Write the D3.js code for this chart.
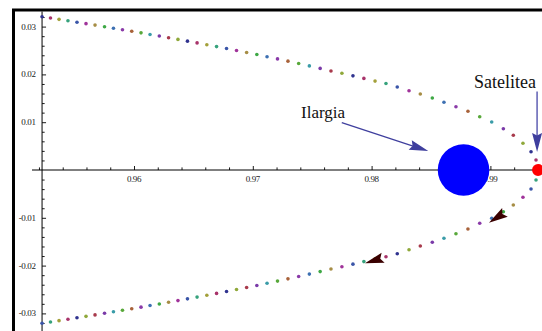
<!DOCTYPE html>
<html><head><meta charset="utf-8">
<script src="https://cdn.jsdelivr.net/npm/d3@7"></script>
<style>html,body{margin:0;padding:0;background:#fff;overflow:hidden}svg{display:block}</style>
</head><body><svg id="c" width="542" height="331"></svg>
<script>
// ---- data ----
const xTickValues = [0.96, 0.97, 0.98, 0.99];
const xTickLabels = ["0.96", "0.97", "0.98", "0.99"];
const yTickValues = [-0.03, -0.02, -0.01, 0.01, 0.02, 0.03];
const yTickLabels = ["-0.03", "-0.02", "-0.01", "0.01", "0.02", "0.03"];
const axesOrigin = [0.95226, 0];

const trajX = [0.95226,0.95297,0.95369,0.95444,0.95520,0.95596,0.95672,0.95752,0.95827,0.95903,
  0.95981,0.96059,0.96135,0.96213,0.96291,0.96370,0.96450,0.96531,0.96613,0.96695,
  0.96779,0.96863,0.96948,0.97034,0.97120,0.97208,0.97296,0.97386,0.97476,0.97567,
  0.97658,0.97750,0.97843,0.97935,0.98029,0.98121,0.98216,0.98315,0.98410,0.98511,
  0.98609,0.98710,0.98811,0.98910,0.99011,0.99109,0.99193,0.99274,0.99342,0.99384,0.99401,
  0.99384,0.99342,0.99274,0.99193,0.99109,0.99011,0.98910,0.98811,0.98710,0.98609,
  0.98511,0.98410,0.98315,0.98216,0.98121,0.98029,0.97935,0.97843,0.97750,0.97658,
  0.97567,0.97476,0.97386,0.97296,0.97208,0.97120,0.97034,0.96948,0.96863,0.96779,
  0.96695,0.96613,0.96531,0.96450,0.96370,0.96291,0.96213,0.96135,0.96059,0.95981,
  0.95903,0.95827,0.95752,0.95672,0.95596,0.95520,0.95444,0.95369,0.95297,0.95226];
const trajY = [0.03207,0.03180,0.03152,0.03122,0.03092,0.03062,0.03031,0.02998,0.02967,0.02935,
  0.02903,0.02869,0.02836,0.02802,0.02768,0.02732,0.02696,0.02659,0.02621,0.02582,
  0.02542,0.02500,0.02458,0.02415,0.02370,0.02324,0.02277,0.02228,0.02178,0.02126,
  0.02072,0.02023,0.01970,0.01916,0.01860,0.01810,0.01736,0.01659,0.01590,0.01506,
  0.01416,0.01324,0.01228,0.01115,0.01004,0.00864,0.00726,0.00559,0.00383,0.00209,0,
  -0.00209,-0.00397,-0.00571,-0.00732,-0.00872,-0.01010,-0.01115,-0.01234,-0.01333,-0.01429,
  -0.01513,-0.01590,-0.01667,-0.01751,-0.01814,-0.01860,-0.01916,-0.01970,-0.02023,-0.02072,
  -0.02126,-0.02178,-0.02228,-0.02277,-0.02324,-0.02370,-0.02415,-0.02458,-0.02500,-0.02542,
  -0.02582,-0.02621,-0.02659,-0.02696,-0.02732,-0.02768,-0.02802,-0.02836,-0.02869,-0.02903,
  -0.02935,-0.02967,-0.02998,-0.03031,-0.03062,-0.03092,-0.03122,-0.03152,-0.03180,-0.03207];

// moon (Ilargia) and satellite positions
const moon = [0.98774, 0];
const satellite = [0.99401, 0];
// direction arrowheads on trajectory: [tailX, tailY, tipX, tipY]
const motionArrows = [[0.99120, -0.00893, 0.98988, -0.01103], [0.98099, -0.01835, 0.97944, -0.01952]];
// annotation labels
const labels = [
  {text: "Ilargia", x: 0.97406, y: 0.01088, arrow: [0.97749, 0.00990, 0.98477, 0.00397]},
  {text: "Satelitea", x: 0.98862, y: 0.01715, arrow: [0.99393, 0.01640, 0.99393, 0.00377]}
];

// ---- drawing ----
const svg = d3.select("#c");
const x = d3.scaleLinear().domain([0.96, 0.99]).range([134, 490.4]);
const y = d3.scaleLinear().domain([-0.03, 0.03]).range([313.4, 26.6]);
const ox = x(axesOrigin[0]), oy = y(axesOrigin[1]);

const palette = ["#30338f","#a8336a","#a3a03a","#36a27c","#3a55a8","#a0339a","#a68d45","#3ea845",
                 "#3d70b2","#8a3aa8","#a8623a","#58a83a","#3a9ca8","#7a3aa8","#a83a4c","#8fa83a"];

// frame
svg.append("rect").attr("x", 13.5).attr("y", 10).attr("width", 700).attr("height", 500)
  .attr("fill", "none").attr("stroke", "#000").attr("stroke-width", 3);

// axes lines
svg.append("line").attr("x1", ox).attr("x2", ox).attr("y1", 11.5).attr("y2", 331)
  .attr("stroke", "#000").attr("stroke-width", 1);
svg.append("line").attr("x1", 32).attr("x2", 542).attr("y1", oy).attr("y2", oy)
  .attr("stroke", "#000").attr("stroke-width", 1);

// y ticks via axis
const yMinor = d3.range(-16, 17).map(k => k * 0.002).filter(v => Math.abs(v) > 1e-9 && Math.abs(Math.round(v*100) - v*100) > 1e-6);
const gy = svg.append("g").attr("transform", `translate(${ox},0)`);
gy.call(d3.axisRight(y).tickValues(yTickValues).tickSize(4).tickFormat(""));
gy.append("g").call(d3.axisRight(y).tickValues(yMinor).tickSize(2.6).tickFormat(""));
gy.selectAll(".domain").remove();
gy.selectAll("line").attr("stroke", "#000").attr("stroke-width", 0.9);

const xMinor = d3.range(0, 24).map(k => 0.952 + k * 0.002).filter(v => Math.abs(Math.round(v*100) - v*100) > 1e-6);
const gx = svg.append("g").attr("transform", `translate(0,${oy})`);
gx.call(d3.axisTop(x).tickValues(xTickValues).tickSize(4).tickFormat(""));
gx.append("g").call(d3.axisTop(x).tickValues(xMinor).tickSize(2.6).tickFormat(""));
gx.selectAll(".domain").remove();
gx.selectAll("line").attr("stroke", "#000").attr("stroke-width", 0.9);

// tick labels
svg.append("g").selectAll("text").data(yTickValues).join("text")
  .attr("x", 35.5).attr("y", d => y(d)).attr("dy", "0.33em")
  .attr("text-anchor", "end").attr("font-family", "Liberation Serif").attr("font-size", 9)
  .attr("letter-spacing", -0.4).attr("fill", "#222")
  .text((d, i) => yTickLabels[i]);
svg.append("g").selectAll("text").data(xTickValues).join("text")
  .attr("x", d => x(d)).attr("y", oy + 11.5)
  .attr("text-anchor", "middle").attr("font-family", "Liberation Serif").attr("font-size", 9)
  .attr("letter-spacing", -0.4).attr("fill", "#222")
  .text((d, i) => xTickLabels[i]);

// trajectory dots
svg.append("g").selectAll("circle").data(trajX).join("circle")
  .attr("cx", d => x(d)).attr("cy", (d, i) => y(trajY[i])).attr("r", 1.8)
  .attr("fill", (d, i) => palette[i % palette.length]);

// motion arrowheads
function headPath(x1, y1, x2, y2, L, W, notch) {
  const a = Math.atan2(y2 - y1, x2 - x1), c = Math.cos(a), s = Math.sin(a);
  const p = (u, v) => [x2 - u * c - v * s, y2 - u * s + v * c];
  const pts = [p(0, 0), p(L, W), p(L - notch, 0), p(L, -W)];
  return "M" + pts.map(q => q.join(",")).join("L") + "Z";
}
svg.append("g").selectAll("path").data(motionArrows).join("path")
  .attr("d", d => headPath(x(d[0]), y(d[1]), x(d[2]), y(d[3]), 19, 5.2, 3))
  .attr("fill", "#3a0000");

// moon and satellite
svg.append("circle").attr("cx", x(moon[0])).attr("cy", y(moon[1])).attr("r", 25.8).attr("fill", "#0000ff");
svg.append("circle").attr("cx", x(satellite[0])).attr("cy", y(satellite[1])).attr("r", 6).attr("fill", "#ff0000");

// annotation arrows + labels
labels.forEach((l, i) => {
  const [ax1, ay1, ax2, ay2] = l.arrow;
  const X1 = x(ax1), Y1 = y(ay1), X2 = x(ax2), Y2 = y(ay2);
  const a = Math.atan2(Y2 - Y1, X2 - X1);
  svg.append("line").attr("x1", X1).attr("y1", Y1)
    .attr("x2", X2 - 12 * Math.cos(a)).attr("y2", Y2 - 12 * Math.sin(a))
    .attr("stroke", i === 0 ? "#3f3f9e" : "#6a6ab8").attr("stroke-width", i === 0 ? 1.3 : 1.6);
  svg.append("path").attr("d", headPath(X1, Y1, X2, Y2, 19, 5, 2.5)).attr("fill", "#3f3f9e");
  svg.append("text").attr("x", x(l.x)).attr("y", y(l.y))
    .attr("font-family", "Liberation Serif").attr("font-size", i === 0 ? 17 : 18)
    .attr("fill", "#111").text(l.text);
});
</script></body></html>
